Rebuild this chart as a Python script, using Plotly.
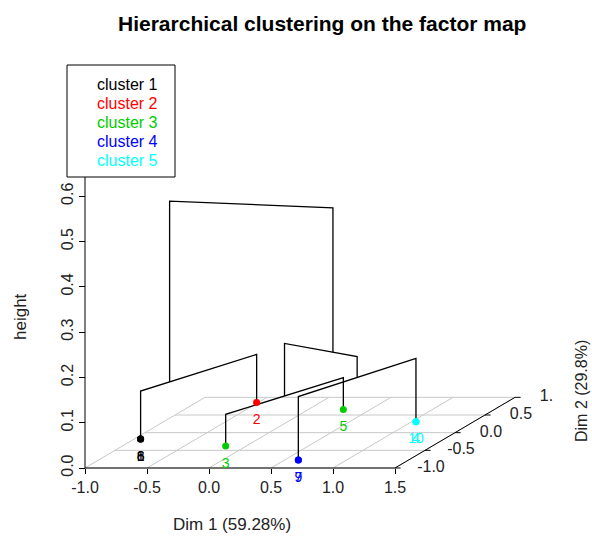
import plotly.graph_objects as go

# ---- data -------------------------------------------------------------
# individuals on the first two principal dimensions and their cluster
ind_names = [str(i) for i in range(1, 11)]
dim1 = [-0.948, -0.514, -0.166, 1.036, 0.281, -0.948, 0.611, -0.948, 0.611, 1.036]
dim2 = [-0.181, 0.856, -0.379, 0.308, 0.658, -0.181, -0.774, -0.181, -0.774, 0.308]
cluster = [1, 2, 3, 5, 3, 1, 4, 1, 4, 5]

# hierarchical tree, hclust style: negative = individual, positive = earlier merge step
merge = [(-1, -6), (-8, 1), (-7, -9), (-4, -10), (-3, -5),
         (2, -2), (3, 4), (5, 7), (6, 8)]
merge_height = [0.0, 0.0, 0.0, 0.0, 0.07, 0.106, 0.14, 0.186, 0.505]

cluster_names = ["cluster 1", "cluster 2", "cluster 3", "cluster 4", "cluster 5"]
cluster_colors = ["#000000", "#FF0000", "#00CD00", "#0000FF", "#00FFFF"]

dim1_ticks = [-1.0, -0.5, 0.0, 0.5, 1.0, 1.5]
dim2_ticks = [-1.0, -0.5, 0.0, 0.5, 1.0]
height_ticks = [0.0, 0.1, 0.2, 0.3, 0.4, 0.5, 0.6, 0.7]

# ---- oblique 3D projection (Dim 2 recedes up and to the right) --------
Y0 = dim2_ticks[0]
SHIFT_X = 0.484   # Dim 1 units moved per unit of Dim 2
SHIFT_Z = 0.078   # height units moved per unit of Dim 2


def proj(x, y, z):
    return x + (y - Y0) * SHIFT_X, z + (y - Y0) * SHIFT_Z


# ---- page geometry (pixels) -------------------------------------------
FIG_W, FIG_H = 592, 544
PLOT_L, PLOT_R, PLOT_T, PLOT_B = 78, 553, 151, 510
ORIGIN_PX, ORIGIN_PY = 85, 468      # pixel of (Dim1=-1, height=0)
PX_PER_X, PX_PER_Z = 124, 453

x_range = [dim1_ticks[0] - (ORIGIN_PX - PLOT_L) / PX_PER_X,
           dim1_ticks[0] + (PLOT_R - ORIGIN_PX) / PX_PER_X]
z_range = [-(PLOT_B - ORIGIN_PY) / PX_PER_Z, (ORIGIN_PY - PLOT_T) / PX_PER_Z]


def paper_x(px):
    return (px - PLOT_L) / (PLOT_R - PLOT_L)


def paper_y(py):
    return (PLOT_B - py) / (PLOT_B - PLOT_T)


FONT = "Liberation Sans, Arial, sans-serif"
fig = go.Figure()

# ---- grid on the base plane -------------------------------------------
gx, gy = [], []
for xt in dim1_ticks:
    for p in (proj(xt, dim2_ticks[0], 0), proj(xt, dim2_ticks[-1], 0)):
        gx.append(p[0]); gy.append(p[1])
    gx.append(None); gy.append(None)
for yt in dim2_ticks:
    for p in (proj(dim1_ticks[0], yt, 0), proj(dim1_ticks[-1], yt, 0)):
        gx.append(p[0]); gy.append(p[1])
    gx.append(None); gy.append(None)
fig.add_trace(go.Scatter(x=gx, y=gy, mode="lines",
                         line=dict(color="#c8c8c8", width=1), hoverinfo="skip"))

# ---- axis lines -------------------------------------------------------
ax_x, ax_y = [], []
for a, b in [((dim1_ticks[0], Y0, 0), (dim1_ticks[-1], Y0, 0)),
             ((dim1_ticks[0], Y0, 0), (dim1_ticks[0], Y0, height_ticks[-1])),
             ((dim1_ticks[-1], dim2_ticks[0], 0), (dim1_ticks[-1], dim2_ticks[-1], 0))]:
    for p in (proj(*a), proj(*b)):
        ax_x.append(p[0]); ax_y.append(p[1])
    ax_x.append(None); ax_y.append(None)
# tick marks on the Dim 2 axis
for yt in dim2_ticks:
    u, v = proj(dim1_ticks[-1], yt, 0)
    ax_x += [u, u + 0.045, None]; ax_y += [v, v, None]
fig.add_trace(go.Scatter(x=ax_x, y=ax_y, mode="lines",
                         line=dict(color="black", width=1), hoverinfo="skip",
                         cliponaxis=False))

# Dim 2 tick labels (clipped by the plotting region)
lab_u, lab_v = [], []
for yt in dim2_ticks:
    u, v = proj(dim1_ticks[-1], yt, 0)
    lab_u.append(u + 0.29); lab_v.append(v)
fig.add_trace(go.Scatter(x=lab_u, y=lab_v, mode="text",
                         text=[f"{t:.1f}" for t in dim2_ticks],
                         textfont=dict(family=FONT, size=16, color="#222"),
                         textposition="middle center", cliponaxis=True,
                         hoverinfo="skip"))

# ---- hierarchical tree ------------------------------------------------
members = []
tx, ty = [], []
for (a, b), h in zip(merge, merge_height):
    ends = []
    grp = []
    for c in (a, b):
        if c < 0:
            idx, zc = [-c - 1], 0.0
        else:
            idx, zc = members[c - 1], merge_height[c - 1]
        cx = sum(dim1[i] for i in idx) / len(idx)
        cy = sum(dim2[i] for i in idx) / len(idx)
        ends.append((cx, cy, zc))
        grp += idx
    members.append(grp)
    (xa, ya, za), (xb, yb, zb) = ends
    for p in (proj(xa, ya, za), proj(xa, ya, h), proj(xb, yb, h), proj(xb, yb, zb)):
        tx.append(p[0]); ty.append(p[1])
    tx.append(None); ty.append(None)
fig.add_trace(go.Scatter(x=tx, y=ty, mode="lines",
                         line=dict(color="black", width=1.3), hoverinfo="skip"))

# ---- individuals and their labels --------------------------------------
pu, pv = [], []
for x, y in zip(dim1, dim2):
    u, v = proj(x, y, 0)
    pu.append(u); pv.append(v)
colors = [cluster_colors[c - 1] for c in cluster]
fig.add_trace(go.Scatter(x=pu, y=pv, mode="markers",
                         marker=dict(size=7, color=colors, line=dict(width=0)),
                         hoverinfo="skip"))
LABEL_DROP = 18 / PX_PER_Z
fig.add_trace(go.Scatter(x=pu, y=[v - LABEL_DROP for v in pv], mode="text",
                         text=ind_names, textposition="middle center",
                         textfont=dict(family=FONT, size=14, color=colors),
                         cliponaxis=False, hoverinfo="skip"))

# ---- legend box ---------------------------------------------------------
fig.add_shape(type="rect", xref="paper", yref="paper",
              x0=paper_x(67), x1=paper_x(175), y0=paper_y(177), y1=paper_y(65),
              fillcolor="white", line=dict(color="black", width=1), layer="above")
annotations = []
for i, (name, col) in enumerate(zip(cluster_names, cluster_colors)):
    annotations.append(dict(text=name, xref="paper", yref="paper",
                            x=paper_x(95), y=paper_y(85 + i * 18.8),
                            xanchor="left", yanchor="middle", showarrow=False,
                            font=dict(family=FONT, size=16, color=col)))

# ---- titles -----------------------------------------------------------
annotations += [
    dict(text="<b>Hierarchical clustering on the factor map</b>", xref="paper", yref="paper",
         x=paper_x(322), y=paper_y(23), xanchor="center", yanchor="middle",
         showarrow=False, font=dict(family=FONT, size=21, color="black")),
    dict(text="Dim 1 (59.28%)", xref="paper", yref="paper",
         x=paper_x(232), y=paper_y(524), xanchor="center", yanchor="middle",
         showarrow=False, font=dict(family=FONT, size=17, color="#222")),
    dict(text="height", xref="paper", yref="paper", textangle=-90,
         x=paper_x(20), y=paper_y(317), xanchor="center", yanchor="middle",
         showarrow=False, font=dict(family=FONT, size=17, color="#222")),
    dict(text="Dim 2 (29.8%)", xref="paper", yref="paper", textangle=-90,
         x=paper_x(581), y=paper_y(391), xanchor="center", yanchor="middle",
         showarrow=False, font=dict(family=FONT, size=16, color="#222")),
]

fig.update_layout(
    width=FIG_W, height=FIG_H,
    margin=dict(l=PLOT_L, r=FIG_W - PLOT_R, t=PLOT_T, b=FIG_H - PLOT_B, pad=0),
    paper_bgcolor="white", plot_bgcolor="white",
    showlegend=False,
    annotations=annotations,
    xaxis=dict(range=x_range, anchor="free",
               position=(0 - z_range[0]) / (z_range[1] - z_range[0]),
               tickmode="array", tickvals=dim1_ticks,
               ticktext=[f"{t:.1f}" for t in dim1_ticks],
               ticks="outside", ticklen=5, tickcolor="black",
               showline=False, showgrid=False, zeroline=False,
               tickfont=dict(family=FONT, size=16, color="#222")),
    yaxis=dict(range=z_range, anchor="free",
               position=(dim1_ticks[0] - x_range[0]) / (x_range[1] - x_range[0]),
               tickmode="array", tickvals=height_ticks,
               ticktext=[f"{t:.1f}" for t in height_ticks], tickangle=-90,
               ticks="outside", ticklen=6, tickcolor="black",
               showline=False, showgrid=False, zeroline=False,
               tickfont=dict(family=FONT, size=16, color="#222")),
)

fig.write_html("out.html")
